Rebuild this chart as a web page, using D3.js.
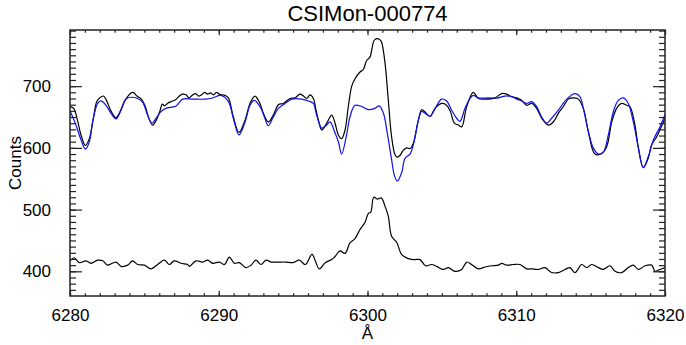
<!DOCTYPE html>
<html>
<head>
<meta charset="utf-8">
<script src="https://cdn.jsdelivr.net/npm/d3@7"></script>
<style>
  html, body { margin: 0; padding: 0; background: #fff; }
  svg { display: block; font-family: "Liberation Sans", Arial, Helvetica, sans-serif; }
</style>
</head>
<body>
<script>
const chartTitle = "CSIMon-000774";
const xLabel = "Å";
const yLabel = "Counts";
const xTicks = [6280, 6290, 6300, 6310, 6320];
const yTicks = [400, 500, 600, 700];
const xDomain = [6280, 6320];
const yDomain = [360, 791];

// observed spectrum (black, upper)
const observed = [[6280.00,667],[6280.25,664],[6280.50,645],[6280.75,620],[6281.03,604],[6281.30,615],[6281.55,645],[6281.80,675],[6282.00,681],[6282.25,684],[6282.45,677],[6282.75,660],[6283.09,649],[6283.35,658],[6283.65,675],[6283.90,684],[6284.10,689],[6284.25,690],[6284.50,684],[6284.80,679],[6285.05,668],[6285.30,648],[6285.55,637],[6285.80,645],[6286.05,660],[6286.20,671],[6286.35,668],[6286.55,672],[6286.80,675],[6287.10,678],[6287.35,684],[6287.55,687],[6287.80,686],[6288.00,681],[6288.20,685],[6288.45,688],[6288.65,684],[6288.85,686],[6289.05,690],[6289.25,687],[6289.45,689],[6289.65,686],[6289.85,690],[6290.05,687],[6290.42,685],[6290.65,681],[6290.98,650],[6291.36,625],[6291.77,645],[6292.10,672],[6292.44,684],[6292.77,672],[6293.00,656],[6293.33,642],[6293.67,653],[6294.01,670],[6294.34,672],[6294.79,680],[6295.13,681],[6295.46,687],[6295.70,684],[6295.91,680],[6296.14,686],[6296.36,680],[6296.55,660],[6296.70,645],[6296.92,629],[6297.26,640],[6297.59,653],[6297.82,640],[6298.04,621],[6298.26,615],[6298.49,629],[6298.71,667],[6298.94,700],[6299.16,712],[6299.50,723],[6299.72,727],[6299.95,742],[6300.17,747],[6300.28,758],[6300.44,774],[6300.62,777],[6300.84,775],[6300.95,771],[6301.18,737],[6301.40,677],[6301.62,618],[6301.85,589],[6302.00,585],[6302.19,588],[6302.40,596],[6302.64,600],[6302.86,599],[6303.09,608],[6303.42,645],[6303.65,662],[6303.87,658],[6304.20,651],[6304.45,660],[6304.65,667],[6304.98,672],[6305.21,671],[6305.54,661],[6305.84,640],[6306.11,637],[6306.33,634],[6306.67,667],[6307.11,690],[6307.45,680],[6307.90,679],[6308.57,681],[6309.02,688],[6309.36,687],[6309.69,683],[6310.03,681],[6310.36,677],[6310.70,669],[6311.04,672],[6311.37,664],[6311.71,648],[6312.16,637],[6312.49,642],[6312.83,656],[6313.17,667],[6313.50,679],[6313.84,681],[6314.17,679],[6314.51,664],[6314.85,626],[6315.29,590],[6315.74,591],[6316.08,602],[6316.42,642],[6316.75,664],[6317.09,672],[6317.42,669],[6317.64,667],[6317.98,637],[6318.21,600],[6318.54,568],[6318.88,584],[6319.10,605],[6319.44,618],[6320.00,648]];

// model spectrum (blue)
const model = [[6280.00,660],[6280.40,637],[6280.74,613],[6281.03,598],[6281.30,610],[6281.52,642],[6281.86,672],[6282.08,676],[6282.42,669],[6282.76,656],[6283.09,647],[6283.43,661],[6283.76,679],[6284.10,682],[6284.55,680],[6284.88,674],[6285.22,653],[6285.51,640],[6285.78,648],[6286.12,659],[6286.45,664],[6287.13,668],[6287.57,679],[6288.25,679],[6289.14,679],[6289.59,681],[6290.15,685],[6290.65,675],[6290.98,648],[6291.36,621],[6291.77,642],[6292.10,669],[6292.39,677],[6292.77,667],[6293.10,648],[6293.33,636],[6293.67,650],[6294.01,664],[6294.46,672],[6294.91,679],[6295.58,679],[6296.03,676],[6296.36,672],[6296.55,656],[6296.75,640],[6296.92,632],[6297.26,637],[6297.48,642],[6297.82,624],[6298.04,610],[6298.26,590],[6298.60,622],[6298.82,650],[6299.16,669],[6299.61,667],[6300.06,662],[6300.50,664],[6300.78,668],[6301.06,657],[6301.33,624],[6301.62,581],[6301.80,556],[6302.00,546],[6302.30,560],[6302.52,583],[6302.86,590],[6303.08,605],[6303.42,645],[6303.64,659],[6303.98,654],[6304.20,651],[6304.54,664],[6304.98,679],[6305.32,676],[6305.66,661],[6305.99,648],[6306.22,643],[6306.55,664],[6306.89,680],[6307.11,685],[6307.45,681],[6308.12,681],[6308.79,681],[6309.24,684],[6309.69,683],[6310.03,679],[6310.36,676],[6310.70,672],[6311.04,675],[6311.37,667],[6311.71,650],[6312.05,640],[6312.38,648],[6312.83,661],[6313.39,679],[6313.95,688],[6314.28,683],[6314.51,664],[6314.85,626],[6315.18,600],[6315.52,590],[6315.85,593],[6316.19,621],[6316.53,659],[6316.86,677],[6317.20,681],[6317.53,672],[6317.87,642],[6318.21,600],[6318.54,568],[6318.88,586],[6319.22,613],[6319.66,634],[6320.00,654]];

// residual / emission spectrum (black, lower)
const residual = [[6280.00,417],[6280.29,422],[6280.63,414],[6281.08,417],[6281.41,413],[6281.86,418],[6282.20,417],[6282.53,410],[6283.09,415],[6283.43,408],[6283.88,410],[6284.21,417],[6284.55,411],[6285.00,410],[6285.45,404],[6285.89,411],[6286.34,418],[6286.68,411],[6287.01,417],[6287.46,413],[6287.91,411],[6288.02,408],[6288.47,417],[6288.92,415],[6289.26,418],[6289.59,413],[6290.04,415],[6290.38,411],[6290.71,423],[6291.05,413],[6291.38,414],[6291.83,406],[6292.17,410],[6292.50,418],[6292.84,411],[6293.18,418],[6293.51,415],[6293.96,415],[6294.52,415],[6294.97,414],[6295.42,418],[6295.82,411],[6296.27,428],[6296.49,417],[6296.76,404],[6297.16,414],[6297.59,419],[6297.82,424],[6298.15,433],[6298.49,429],[6298.82,446],[6299.16,453],[6299.50,468],[6299.83,479],[6300.06,494],[6300.22,496],[6300.42,520],[6300.66,517],[6300.92,519],[6301.20,504],[6301.40,489],[6301.62,457],[6301.96,447],[6302.30,427],[6302.70,421],[6303.10,419],[6303.53,419],[6303.90,409],[6304.31,411],[6304.65,408],[6305.10,403],[6305.43,406],[6305.88,400],[6306.33,403],[6306.67,415],[6307.00,411],[6307.45,404],[6307.90,407],[6308.35,409],[6308.79,410],[6309.02,413],[6309.36,410],[6309.80,411],[6310.25,411],[6310.70,404],[6311.04,404],[6311.48,403],[6311.93,406],[6312.38,398],[6312.83,398],[6313.28,403],[6313.61,406],[6313.95,398],[6314.40,411],[6314.74,406],[6315.07,411],[6315.52,406],[6315.85,403],[6316.30,409],[6316.64,400],[6317.09,398],[6317.53,406],[6317.87,410],[6318.21,403],[6318.66,409],[6319.11,410],[6319.33,400],[6319.66,403],[6320.00,406]];

(function () {
const W = 686, H = 345;
const pL = 70, pR = 665, pT = 30, pB = 296;

const svg = d3.select("body").append("svg").attr("width", W).attr("height", H);
svg.append("rect").attr("width", W).attr("height", H).attr("fill", "#fff");

const x = d3.scaleLinear().domain(xDomain).range([pL, pR]);
const y = d3.scaleLinear().domain(yDomain).range([pB, pT]);

svg.append("clipPath").attr("id", "clip").append("rect")
  .attr("x", pL).attr("y", pT).attr("width", pR - pL).attr("height", pB - pT);

const line = d3.line().x(d => x(d[0])).y(d => y(d[1])).curve(d3.curveCatmullRom.alpha(0.5));
const g = svg.append("g").attr("clip-path", "url(#clip)");
g.append("path").datum(observed).attr("d", line).attr("fill", "none").attr("stroke", "#000").attr("stroke-width", 1.2);
g.append("path").datum(model).attr("d", line).attr("fill", "none").attr("stroke", "#1010ee").attr("stroke-width", 1.2);
g.append("path").datum(residual).attr("d", line).attr("fill", "none").attr("stroke", "#000").attr("stroke-width", 1.2);

const axColor = "#222";
const xMinor = d3.range(xDomain[0], xDomain[1] + 0.001, 1);
const yMinor = d3.range(370, yDomain[1], 10);
const xMajLen = 5.3, xMinLen = 2.7, yMajLen = 12, yMinLen = 6;

svg.append("g").attr("transform", `translate(0,${pB})`)
  .call(d3.axisBottom(x).tickValues(xTicks).tickFormat(d3.format("d")).tickSizeInner(-xMajLen).tickSizeOuter(0).tickPadding(13));
svg.append("g").attr("transform", `translate(0,${pT})`)
  .call(d3.axisTop(x).tickValues(xTicks).tickFormat("").tickSizeInner(-xMajLen).tickSizeOuter(0));
svg.append("g").attr("transform", `translate(${pL},0)`)
  .call(d3.axisLeft(y).tickValues(yTicks).tickFormat(d3.format("d")).tickSizeInner(-yMajLen).tickSizeOuter(0).tickPadding(19));
svg.append("g").attr("transform", `translate(${pR},0)`)
  .call(d3.axisRight(y).tickValues(yTicks).tickFormat("").tickSizeInner(-yMajLen).tickSizeOuter(0));

svg.append("g").attr("transform", `translate(0,${pB})`)
  .call(d3.axisBottom(x).tickValues(xMinor).tickFormat("").tickSizeInner(-xMinLen).tickSizeOuter(0));
svg.append("g").attr("transform", `translate(0,${pT})`)
  .call(d3.axisTop(x).tickValues(xMinor).tickFormat("").tickSizeInner(-xMinLen).tickSizeOuter(0));
svg.append("g").attr("transform", `translate(${pL},0)`)
  .call(d3.axisLeft(y).tickValues(yMinor).tickFormat("").tickSizeInner(-yMinLen).tickSizeOuter(0));
svg.append("g").attr("transform", `translate(${pR},0)`)
  .call(d3.axisRight(y).tickValues(yMinor).tickFormat("").tickSizeInner(-yMinLen).tickSizeOuter(0));

svg.selectAll(".domain").remove();
svg.selectAll(".tick line").attr("stroke", axColor).attr("stroke-width", 1.2);
svg.selectAll(".tick text").attr("fill", "#000").style("font-size", "17px")
  .style("font-family", '"Liberation Sans", Arial, Helvetica, sans-serif');

svg.append("rect").attr("x", pL).attr("y", pT).attr("width", pR - pL).attr("height", pB - pT)
  .attr("fill", "none").attr("stroke", axColor).attr("stroke-width", 1.5);

svg.append("text").attr("x", (pL + pR) / 2).attr("y", 21).attr("text-anchor", "middle")
  .style("font-size", "22px").attr("fill", "#000").text(chartTitle);
svg.append("text").attr("x", (pL + pR) / 2).attr("y", 339).attr("text-anchor", "middle")
  .style("font-size", "17px").attr("fill", "#000").text(xLabel);
svg.append("text").attr("transform", `translate(21,${(pT + pB) / 2}) rotate(-90)`).attr("text-anchor", "middle")
  .style("font-size", "17px").attr("fill", "#000").text(yLabel);
})();
</script>
</body>
</html>
